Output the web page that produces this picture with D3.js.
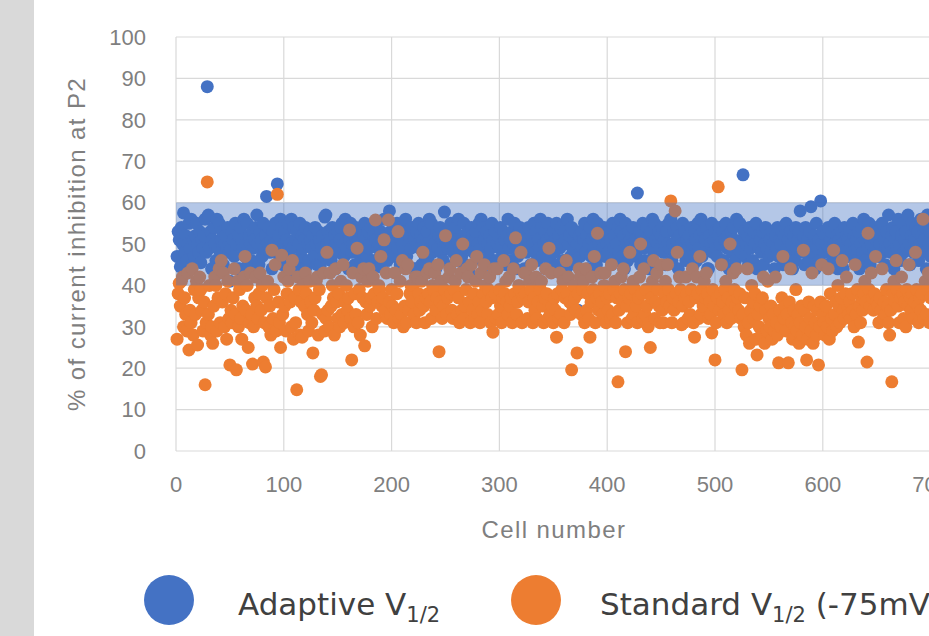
<!DOCTYPE html>
<html>
<head>
<meta charset="utf-8">
<script src="https://cdn.jsdelivr.net/npm/d3@7/dist/d3.min.js"></script>
<style>
  body { margin: 0; background: #fff; }
  text { font-family: "Liberation Sans", Arial, sans-serif; }
</style>
</head>
<body>
<div id="chart"></div>
<script>
// % of current inhibition at P2, one value per cell (cell number = position + 1)
var adaptive = [
  47,53,51,44.5,54,50,57.5,48,52,46,50,55,49,56,45,51,47,52,55,50,48,53,45.5,51,49,
  52,56,48,88,57,49,53,44,51,54,50,46,56,49,55,48,51,53,45,50,52,49,54,48,41,
  49,53,51,47,55,50,44,52,44,54,51,49,56,47,50,55,45,52,50,46,53,49,51,54,57,
  50,45,53,51,47,55,49,52,61.5,50,54,48,51,44,53,50,55,49,64.5,52,47,56,54,45,50,
  53,48,51,55,47,50,56,49,54,43,51,53,45,50,55,47,52,49,51,54,44.5,50,46,53,51,
  49,52,47,54,50,45,53,51,45,49,52,47,56.5,57,50,53,48,51,46,54,49,52,44,50,53,
  48,51,54,55,50,47,56,49,53,44,51,55,48,50,52,45,54,49,51,53,46,50,48,52,55,
  51,47,53,49,50,54,45,52,46,51,55,49,50,44.5,53,51,48,56,50,52,46,49,58,53,48,
  50,53,47,51,55,49,52,45,54,50,48,53,56,47,35,50,52,49,54,44,51,44,53,50,55,
  49,52,45,51,54,47,50,53,46,56,49,55,48,51,50,44,53,49,52,54,48,51,46,57.7,50,
  53,49,51,44.5,55,50,48,52,54,46,51,56,49,50,47,52,55,45,51,49,53,43,50,54,52,
  48,51,53,47,50,55,49,56,46,54,51,45,53,50,47,52,49,55,51,44,53,46,50,52,49,
  54,50,47,53,51,45,52,56,49,51,46,53,50,55,44,52,47,51,54,49,50,53,44,52,48,
  51,54,49,45,52,50,55,48,53,46,51,49,56,54,47,50,53,44,51,55,49,46,52,50,53,
  48,51,55,45,52,49,54,50,46,53,51,44,56,50,52,47,54,49,51,53,45,50,34,52,47,
  53,49,51,55,48,52,44,50,54,47,51,56,49,52,45,55,50,43,53,51,49,54,47,52,50,
  48,53,51,45,55,49,52,46,50,54,48,56,53,47,52,44,55,50,46,53,51,48,52,54,49,
  51,47,62.3,50,53,45,52,55,49,46,51,54,50,44,53,49,56,48,55,51,44,50,53,49,52,
  54,48,51,45,53,50,55,49,56,46,50,53,48,51,54,44,52,49,50,55,48,53,46,51,49,
  52,47,54,50,45,53,51,46,55,49,52,56,47,53,48,51,54,44,44,52,50,55,48,51,53,
  49,47,52,54,50,45,53,46,51,55,49,52,44,50,53,48,54,51,46,56,49,50,55,48,51,
  66.7,53,47,50,52,45,54,49,51,46,53,50,55,44,52,49,51,48,53,45,50,54,49,52,47,
  51,48,53,50,44,52,49,54,47,51,50,53,45,52,46,55,49,51,47,53,50,44,52,46,54,
  49,51,53,58,48,50,52,45,54,49,51,46,53,59,50,48,52,44,55,49,51,46,60.4,50,53,
  48,52,50,45,54,49,51,53,46,50,55,48,52,44,51,49,53,50,44,54,48,52,51,47,53,
  50,48,55,52,46,51,49,53,44,50,54,48,56,51,46,53,49,55,45,50,52,48,54,51,49,
  53,47,50,52,55,48,51,45,53,49,57,50,48,52,54,44,51,53,49,56,50,46,52,55,48,
  51,53,49,57,50,45,52,55,48,51,54,49,53,46,50,56,52,48,51,54,44,57,50,53,47
];

var standard = [
  27,38,40.5,35,41,42,30,37,33,29,43,24.4,34,31,44,28,39,33,41,25.6,37,42,39,34,29,
  36,16,31,65,33,40,28,30,26,35,42,40,29,37,44,31,46,36,43,30,38,27,41,32,20.8,
  34,31,37,44,33,19.6,41,30,39,32,27,35,42,47,34,40,25,31,43,33,21,30,37,42,35,
  32,38,43,34,40,21.5,31,20.3,37,41,30,35,28,48.5,32,39,45,29,62,36,31,25,47.3,33,42,
  35,29,38,41,44,36,30,46,27,37,31,14.8,42,39,28,36,27.5,40,35,43,38,33,29,41,36,
  31,23.7,34,37,41,42,28,39,18,18.4,33,43,29,32,48,34,30,43,35,40,37,28,44,36,32,
  38,30,41,33,45,31,36,40,34,37,53.4,32,22,43,30,38,33,49,31,39,28,42,37,44,25.4,
  36,33,41,44,35,37,30,42,38,55.8,32,36,40,39,47,35,37,51,34,43,32,55.8,36,33,39,
  35,31,43,34,38,53,32,41,33,46,30,35,44,31,45,34,38,40,36,40,33,42,31,42,38,
  34,36,41,48,35,31,37,43,38,44,36,32,40,39,43,34,37,45,24,36,41,32,35,39,52,
  33,37,42,44,38,34,32,39,41,46,33,37,31,43,34,50,32,35,39,44,42,36,31,45,34,
  38,32,41,47,33,36,31,43,34,38,45,40,36,33,39,42,31,37,28.7,44,38,32,44,33,39,
  35,31,37,46,38,41,36,33,42,35,37,31,44,38,51.5,33,36,40,39,48,31,37,43,38,43,
  32,36,41,39,45,31,37,34,42,32,36,40,39,41,35,31,37,44,38,32,49,33,43,35,31,
  37,34,27.5,38,32,43,33,39,41,31,37,46,38,42,36,33,19.6,35,40,37,34,23.7,38,44,42,
  33,39,41,31,44,34,38,32,27.5,36,42,39,47,31,37,52.6,34,38,43,36,33,40,43,31,37,
  34,38,32,45,33,39,41,31,37,16.7,34,38,42,36,44,39,24,35,31,37,48,38,32,41,33,
  39,35,31,37,42,50,38,32,44,33,39,35,30,31,25,37,41,46,32,36,43,39,35,31,45,
  34,31,38,41,36,45,39,35,60.4,31,37,34,58,38,48,36,42,39,30.5,35,31,37,42,38,32,
  36,33,39,44,31,27.5,37,42,38,32,47,33,39,35,41,37,43,38,32,36,33,28.5,39,35,22,
  31,37,63.8,34,38,45,36,33,39,41,31,37,34,50,32,36,43,39,35,44,37,34,38,32,19.6,
  33,30,37,28,44,31,26,34,40,36,32,38,27,23.2,33,30,35,28,37,42,26,34,29,41,32,
  30,35,27,33,29,42,31,28,21.3,34,30,37,47,32,35,29,33,21.3,36,44,31,27,34,30,39,
  29,33,26,31,35,28,48.5,34,30,22,27,36,32,29,43,26,35,31,28,34,20.8,30,36,45,33,
  31,28,35,30,44,27,38,32,29,48.5,33,36,30,40,35,31,37,46,34,32,38,42,35,33,36,
  32,38,34,30,45,33,39,26.3,35,31,37,34,38,41,36,21.5,52.6,39,35,43,37,34,38,47,36,
  35,31,37,34,44,32,36,33,39,35,31,28,34,16.7,38,41,36,46,39,35,31,37,42,38,32,
  36,30,39,35,45,37,34,38,32,36,48,39,35,31,37,34,38,56,32,41,33,39,43,31,37
];

var xTicks = [0, 100, 200, 300, 400, 500, 600, 700, 800];
var yTicks = [0, 10, 20, 30, 40, 50, 60, 70, 80, 90, 100];
var band = [40, 60];
var seriesNames = ["Adaptive", "Standard"];
var legendMain = ["Adaptive V", "Standard V"];
var legendSub = ["1/2", "1/2"];
var legendTail = ["", " (-75mV)"];

var svgWidth = 929;
var svgHeight = 636;
var colors = { Adaptive: "#4472C4", Standard: "#ED7D31" };

var svg = d3.select("#chart")
  .append("svg")
  .attr("width", svgWidth)
  .attr("height", svgHeight);

// grey strip on the left edge
svg.append("rect")
  .attr("x", 0).attr("y", 0)
  .attr("width", 34).attr("height", svgHeight)
  .attr("fill", "#d9d9d9");

var xScale = d3.scaleLinear().domain([0, 800]).range([176, 176 + 8 * 107.8]);
var yScale = d3.scaleLinear().domain([0, 100]).range([451, 37]);

var plot = svg.append("g");

// gridlines
plot.selectAll(".hgrid")
  .data(yTicks)
  .enter()
  .append("line")
  .attr("x1", xScale(0))
  .attr("x2", xScale(800))
  .attr("y1", d => yScale(d))
  .attr("y2", d => yScale(d))
  .attr("stroke", "#d9d9d9")
  .attr("stroke-width", 1.2);

plot.selectAll(".vgrid")
  .data(xTicks)
  .enter()
  .append("line")
  .attr("x1", d => xScale(d))
  .attr("x2", d => xScale(d))
  .attr("y1", yScale(0))
  .attr("y2", yScale(100))
  .attr("stroke", "#d9d9d9")
  .attr("stroke-width", 1.2);

// tick labels
svg.selectAll(".ylab")
  .data(yTicks)
  .enter()
  .append("text")
  .attr("x", 146)
  .attr("y", d => yScale(d))
  .attr("dy", "0.35em")
  .attr("text-anchor", "end")
  .attr("fill", "#7f7f7f")
  .style("font-size", "22px")
  .text(d => d);

svg.selectAll(".xlab")
  .data(xTicks)
  .enter()
  .append("text")
  .attr("x", d => xScale(d))
  .attr("y", 492)
  .attr("text-anchor", "middle")
  .attr("fill", "#7f7f7f")
  .style("font-size", "22px")
  .text(d => d);

// axis titles
svg.append("text")
  .attr("transform", "translate(85, 244) rotate(-90)")
  .attr("text-anchor", "middle")
  .attr("fill", "#7f7f7f")
  .style("font-size", "24px")
  .style("letter-spacing", "1.4px")
  .text("% of current inhibition at P2");

svg.append("text")
  .attr("x", 554)
  .attr("y", 538)
  .attr("text-anchor", "middle")
  .attr("fill", "#7f7f7f")
  .style("font-size", "24px")
  .style("letter-spacing", "1.4px")
  .text("Cell number");

// points: adaptive first, standard on top
var seriesData = [adaptive, standard];
seriesData.forEach(function(values, k) {
  plot.append("g")
    .selectAll("circle")
    .data(values)
    .enter()
    .append("circle")
    .attr("cx", (d, i) => xScale(i + 1))
    .attr("cy", d => yScale(d))
    .attr("r", 6.5)
    .attr("fill", colors[seriesNames[k]]);
});

// translucent 40-60 band drawn over the points
plot.append("rect")
  .attr("x", xScale(0))
  .attr("y", yScale(band[1]))
  .attr("width", xScale(800) - xScale(0))
  .attr("height", yScale(band[0]) - yScale(band[1]))
  .attr("fill", "#4472C4")
  .attr("fill-opacity", 0.4);

// legend
var legendX = [169, 536];
var legendTextX = [238, 600];
seriesNames.forEach(function(name, k) {
  svg.append("circle")
    .attr("cx", legendX[k])
    .attr("cy", 600)
    .attr("r", 25)
    .attr("fill", colors[name]);

  var t = svg.append("text")
    .attr("x", legendTextX[k])
    .attr("y", 615)
    .attr("fill", "#404040")
    .style("font-family", "'DejaVu Sans', sans-serif")
    .style("font-size", "31px");
  t.append("tspan").text(legendMain[k]);
  t.append("tspan")
    .attr("dy", 7)
    .style("font-size", "21px")
    .text(legendSub[k]);
  t.append("tspan")
    .attr("dy", -7)
    .text(legendTail[k]);
});
</script>
</body>
</html>
